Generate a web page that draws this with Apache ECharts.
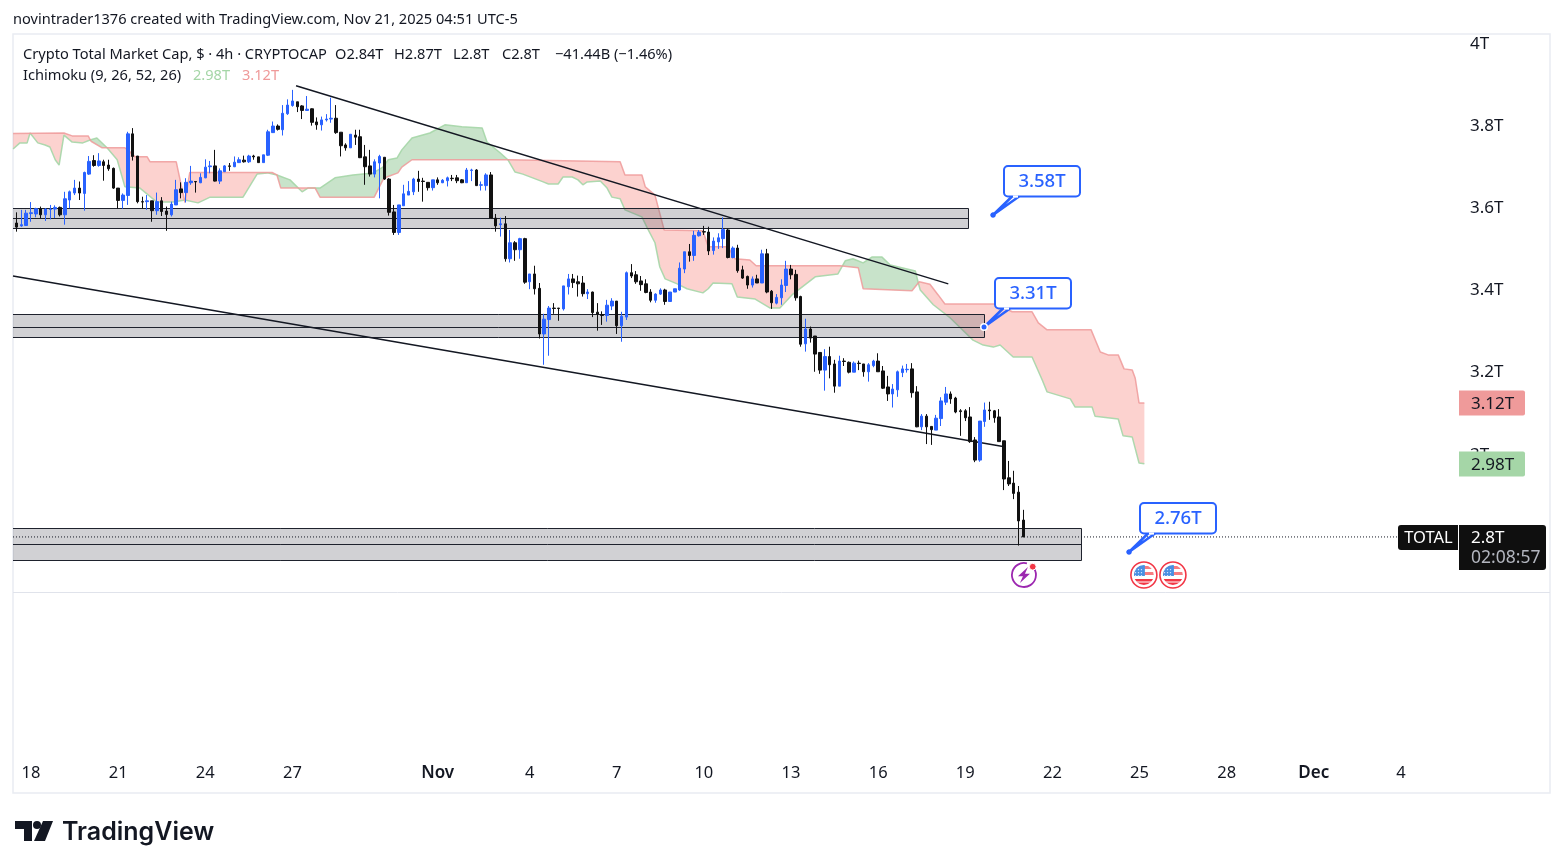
<!DOCTYPE html>
<html><head><meta charset="utf-8">
<style>html,body{margin:0;padding:0;background:#fff}#c{width:1563px;height:868px}</style>
<script src="https://cdn.jsdelivr.net/npm/echarts@6/dist/echarts.min.js"></script>
</head><body><div id="c"></div>
<script>
// open, high, low, close (trillions); bar 0 is the first visible 4h candle
const octBars=[
[3.564,3.590,3.543,3.554],[3.557,3.596,3.555,3.560],[3.558,3.596,3.557,3.588],[3.587,3.615,3.567,3.589],[3.586,3.601,3.578,3.599],
[3.598,3.604,3.576,3.584],[3.584,3.600,3.569,3.598],[3.597,3.608,3.573,3.598],[3.598,3.607,3.576,3.602],[3.602,3.604,3.580,3.584],
[3.584,3.640,3.560,3.623],[3.620,3.643,3.600,3.640],[3.637,3.669,3.632,3.649],[3.649,3.665,3.620,3.637],[3.636,3.689,3.594,3.687],
[3.683,3.727,3.681,3.714],[3.716,3.729,3.701,3.704],[3.704,3.734,3.701,3.715],[3.713,3.718,3.667,3.704],[3.705,3.718,3.691,3.696],
[3.697,3.699,3.647,3.649],[3.649,3.649,3.599,3.619],[3.619,3.636,3.599,3.632],[3.631,3.786,3.608,3.781],[3.781,3.795,3.716,3.726],
[3.727,3.727,3.612,3.616],[3.616,3.628,3.600,3.615],[3.616,3.632,3.596,3.618],[3.618,3.618,3.567,3.594],[3.594,3.638,3.584,3.616],
[3.618,3.627,3.581,3.592],[3.593,3.604,3.545,3.585],[3.584,3.616,3.580,3.610],[3.608,3.669,3.608,3.645],[3.647,3.663,3.624,3.638],
[3.638,3.673,3.614,3.663],[3.662,3.703,3.657,3.666],[3.665,3.665,3.638,3.664],[3.662,3.685,3.661,3.675],[3.674,3.719,3.673,3.700],
[3.701,3.715,3.685,3.703],[3.703,3.742,3.665,3.666],[3.666,3.697,3.659,3.691],[3.689,3.705,3.688,3.703],[3.703,3.710,3.691,3.702],
[3.701,3.726,3.700,3.712],[3.711,3.724,3.710,3.718],[3.717,3.728,3.711,3.713],[3.713,3.730,3.710,3.727],[3.727,3.730,3.718,3.725],
[3.725,3.725,3.711,3.711],[3.711,3.730,3.711,3.730],[3.729,3.791,3.727,3.786],[3.784,3.811,3.783,3.800],[3.800,3.804,3.789,3.792],
[3.791,3.851,3.777,3.831],[3.830,3.865,3.827,3.851],[3.850,3.888,3.847,3.861],[3.859,3.859,3.834,3.847],[3.849,3.851,3.817,3.838],
[3.838,3.873,3.838,3.841],[3.842,3.843,3.801,3.809],[3.810,3.821,3.791,3.803],[3.803,3.823,3.789,3.815],[3.815,3.829,3.811,3.817],
[3.817,3.869,3.808,3.819],[3.819,3.851,3.781,3.784],[3.785,3.785,3.726,3.752],[3.754,3.758,3.740,3.747],[3.747,3.780,3.747,3.780],
[3.778,3.791,3.754,3.773],[3.774,3.791,3.722,3.723],[3.725,3.754,3.657,3.701],[3.703,3.742,3.677,3.683],[3.683,3.719,3.675,3.713],
[3.710,3.730,3.624,3.726],[3.724,3.724,3.669,3.671],[3.671,3.673,3.582,3.590],[3.591,3.608,3.535,3.541],[3.541,3.608,3.535,3.608],
[3.606,3.657,3.606,3.635],[3.632,3.666,3.632,3.641],[3.640,3.674,3.632,3.671],[3.671,3.691,3.640,3.665],[3.666,3.674,3.616,3.665],
[3.663,3.663,3.643,3.650],[3.650,3.669,3.643,3.669]];
const novBars=[
[3.669,3.675,3.657,3.662],[3.662,3.671,3.661,3.668],[3.667,3.677,3.653,3.674],[3.673,3.681,3.666,3.672],[3.674,3.681,3.661,3.667],
[3.669,3.671,3.661,3.662],[3.662,3.698,3.662,3.693],[3.692,3.696,3.666,3.693],[3.693,3.695,3.654,3.655],[3.656,3.665,3.643,3.657],
[3.655,3.685,3.643,3.681],[3.681,3.688,3.576,3.576],[3.576,3.586,3.543,3.557],[3.560,3.577,3.531,3.562],[3.562,3.581,3.470,3.477],
[3.477,3.547,3.468,3.516],[3.516,3.520,3.472,3.499],[3.499,3.528,3.477,3.526],[3.526,3.528,3.416,3.420],[3.421,3.440,3.403,3.440],
[3.440,3.460,3.390,3.404],[3.405,3.418,3.283,3.294],[3.294,3.343,3.219,3.330],[3.329,3.362,3.241,3.357],[3.357,3.369,3.343,3.356],
[3.357,3.357,3.326,3.356],[3.355,3.411,3.351,3.411],[3.409,3.440,3.390,3.428],[3.428,3.440,3.406,3.419],[3.421,3.436,3.385,3.416],
[3.418,3.435,3.385,3.392],[3.392,3.403,3.379,3.396],[3.396,3.397,3.335,3.346],[3.347,3.369,3.302,3.342],[3.341,3.349,3.316,3.339],
[3.339,3.377,3.324,3.364],[3.362,3.381,3.352,3.374],[3.374,3.374,3.294,3.314],[3.314,3.348,3.275,3.337],[3.335,3.446,3.328,3.443],
[3.443,3.464,3.430,3.435],[3.438,3.447,3.416,3.421],[3.423,3.435,3.399,3.414],[3.416,3.427,3.393,3.395],[3.396,3.403,3.371,3.376],
[3.376,3.393,3.370,3.391],[3.391,3.405,3.389,3.401],[3.401,3.404,3.365,3.373],[3.373,3.396,3.373,3.396],[3.396,3.404,3.396,3.404],
[3.401,3.468,3.399,3.454],[3.452,3.494,3.442,3.494],[3.494,3.513,3.470,3.485],[3.485,3.545,3.472,3.534],[3.533,3.547,3.531,3.542],
[3.543,3.557,3.535,3.542],[3.542,3.555,3.486,3.496],[3.497,3.529,3.487,3.520],[3.518,3.539,3.501,3.528],[3.526,3.578,3.503,3.548],
[3.547,3.550,3.478,3.480],[3.480,3.507,3.478,3.503],[3.503,3.511,3.443,3.448],[3.450,3.460,3.428,3.430],[3.434,3.436,3.404,3.413],
[3.413,3.434,3.407,3.428],[3.428,3.438,3.418,3.418],[3.418,3.499,3.418,3.489],[3.489,3.501,3.393,3.396],[3.398,3.401,3.355,3.370],
[3.369,3.391,3.366,3.383],[3.382,3.427,3.365,3.413],[3.412,3.472,3.396,3.452],[3.452,3.462,3.427,3.438],[3.439,3.450,3.375,3.382],
[3.385,3.387,3.263,3.269],[3.270,3.331,3.251,3.306],[3.306,3.312,3.273,3.284],[3.289,3.289,3.202,3.245],[3.249,3.249,3.197,3.206],
[3.206,3.257,3.156,3.239],[3.239,3.263,3.186,3.219],[3.221,3.231,3.151,3.167],[3.167,3.241,3.167,3.228],[3.228,3.235,3.216,3.227],
[3.225,3.227,3.198,3.201],[3.201,3.227,3.201,3.223],[3.223,3.229,3.206,3.222],[3.221,3.221,3.190,3.202],[3.202,3.223,3.178,3.219],
[3.217,3.231,3.213,3.228],[3.228,3.247,3.202,3.202],[3.204,3.216,3.160,3.162],[3.165,3.192,3.131,3.148],[3.148,3.172,3.115,3.160],
[3.158,3.205,3.141,3.202],[3.200,3.217,3.189,3.209],[3.207,3.221,3.200,3.208],[3.209,3.223,3.139,3.151],[3.153,3.167,3.067,3.068],
[3.068,3.099,3.060,3.094],[3.094,3.099,3.026,3.068],[3.069,3.069,3.024,3.061],[3.060,3.097,3.060,3.089],[3.088,3.140,3.070,3.131],
[3.128,3.165,3.121,3.148],[3.148,3.154,3.124,3.136],[3.138,3.141,3.101,3.104],[3.107,3.111,3.046,3.105],[3.107,3.111,3.082,3.090],
[3.092,3.116,3.029,3.032],[3.036,3.043,2.982,2.987],[2.987,3.082,2.983,3.082],[3.081,3.127,3.068,3.109],[3.109,3.129,3.085,3.107],
[3.107,3.109,3.078,3.090],[3.092,3.111,3.032,3.032],[3.034,3.034,2.914,2.941],[2.944,2.985,2.924,2.929],[2.931,2.961,2.892,2.906],
[2.909,2.924,2.779,2.839],[2.841,2.866,2.800,2.800]];

// Ichimoku cloud edges: [bar, value]
const spanA=[[-0.7,3.744],[0.7,3.759],[2.2,3.759],[2.8,3.783],[4.4,3.759],[5.9,3.754],[6.9,3.749],[8.0,3.718],[8.8,3.705],[9.8,3.778],[11.5,3.761],[13.7,3.759],[15.2,3.766],[16.6,3.771],[18.7,3.747],[20.8,3.718],[22.4,3.652],[25.5,3.649],[29.0,3.615],[32.3,3.615],[34.8,3.620],[37.5,3.613],[40.0,3.627],[46.8,3.627],[49.7,3.683],[51.8,3.686],[53.8,3.681],[56.5,3.669],[59.0,3.640],[60.2,3.649],[62.7,3.649],[65.8,3.674],[69.5,3.681],[73.7,3.686],[75.7,3.700],[76.8,3.718],[78.6,3.722],[79.6,3.742],[81.7,3.771],[85.4,3.783],[88.5,3.803],[92.0,3.798],[96.2,3.795],[97.2,3.761],[99.9,3.735],[101.5,3.718],[103,3.688],[104.6,3.683],[108.8,3.664],[109.9,3.659],[111.9,3.659],[112.9,3.676],[114.8,3.676],[116,3.669],[117,3.657],[117.9,3.664],[120.6,3.666],[122,3.649],[123,3.627],[124.7,3.623],[125.7,3.596],[129.2,3.579],[130.3,3.552],[131.9,3.516],[132.9,3.457],[134,3.428],[136.5,3.416],[138.5,3.404],[141.8,3.394],[142.9,3.404],[143.9,3.418],[147.8,3.416],[148.9,3.384],[152.6,3.379],[155.7,3.357],[157.7,3.357],[160.2,3.389],[165,3.433],[169.7,3.440],[171.2,3.472],[172.8,3.477],[174.9,3.467],[176.7,3.481],[178.8,3.481],[180.5,3.462],[185.7,3.447],[186.3,3.418],[186.7,3.401],[189.4,3.365],[192.9,3.333],[197.6,3.279],[199.7,3.267],[201.8,3.262],[203.2,3.267],[205.9,3.238],[209.8,3.238],[211.9,3.182],[212.9,3.153],[217.7,3.136],[218.7,3.116],[222.2,3.116],[222.8,3.094],[227.6,3.087],[228.6,3.046],[230.5,3.043],[231.9,2.980],[233,2.978]];
const spanB=[[-0.7,3.782],[9.8,3.783],[11.5,3.776],[14.8,3.776],[15.4,3.763],[17.7,3.747],[22.4,3.747],[23.0,3.742],[24.5,3.725],[27.0,3.725],[27.6,3.713],[33.0,3.713],[34.8,3.614],[35.8,3.687],[52.8,3.687],[53.8,3.681],[54.6,3.649],[61.7,3.649],[62.7,3.627],[73.9,3.627],[75.7,3.669],[76.5,3.676],[78.8,3.686],[79.6,3.700],[81.7,3.718],[101.5,3.718],[124.7,3.713],[125.7,3.681],[129.2,3.681],[129.9,3.652],[131.9,3.632],[133.8,3.547],[141.8,3.545],[142.9,3.506],[147,3.506],[148.4,3.477],[151.5,3.474],[152.8,3.460],[170.1,3.460],[173.9,3.455],[174.9,3.404],[185,3.399],[186.5,3.421],[188.7,3.415],[190.4,3.389],[191.8,3.367],[202.2,3.367],[205.7,3.348],[209.8,3.348],[211.1,3.321],[212.9,3.304],[222,3.304],[223.9,3.250],[225.5,3.243],[227.6,3.243],[228.8,3.209],[230.5,3.206],[231.1,3.187],[231.9,3.126],[233,3.126]];

// Support zones
const zoneEnd=[196.6,199.8,219.9];
const zoneTop=[3.600,3.342,2.821];
const zoneMid=[3.575,3.312,2.782];
const zoneBottom=[3.551,3.287,2.744];

// Trend lines: [bar, value]
const trendUpper=[[57.75,3.898],[192.5,3.416]];
const trendLower=[[-0.72,3.435],[203.8,3.020]];

// Callouts
const calloutBar=[201.8,199.9,229.9];
const calloutValue=[3.584,3.311,2.763];
const calloutText=['3.58T','3.31T','2.76T'];

// Price axis
const priceTicks=[2.8,3,3.2,3.4,3.6,3.8,4];
const priceLabels=['2.8T','3T','3.2T','3.4T','3.6T','3.8T','4T'];

// Time axis
const timeTickBars=[3,21,39,57,87,106,124,142,160,178,196,214,232,250,268,286];
const timeTickLabels=['18','21','24','27','Nov','4','7','10','13','16','19','22','25','28','Dec','4'];

// Last values
const lastClose=2.8;
const spanAValue=2.977, spanBValue=3.125;
const spanAText='2.98T', spanBText='3.12T';
const eventBars=[232.9,238.9];
const newsBar=208;
const priceLineEnd=286;

const FONT='"Noto Sans"';
const INK='#131722', BLUE='#2962ff', AQUA='#a5d6a7', ROSE='#ef9a9a';
const XMIN=-0.723, XMAX=298, YMIN=2.666, YMAX=4.024;

const bars=octBars.concat(novBars).map((b,i)=>[i,b[0],b[3],b[2],b[1]]);

function interp(path,x){
  for(let i=0;i<path.length-1;i++){
    const p=path[i],q=path[i+1];
    if(x>=p[0]&&x<=q[0]){return q[0]===p[0]?p[1]:p[1]+(q[1]-p[1])*(x-p[0])/(q[0]-p[0]);}
  }
  return path[path.length-1][1];
}
function cloudRuns(){
  const xs=[...new Set(spanA.map(p=>p[0]).concat(spanB.map(p=>p[0])))].sort((a,b)=>a-b);
  const runs=[];let cur=null;
  xs.forEach((x,i)=>{
    const a=interp(spanA,x),b=interp(spanB,x),d=a-b;
    if(!cur){cur={sign:d>=0?1:-1,a:[[x,a]],b:[[x,b]]};return;}
    const px=xs[i-1],pa=interp(spanA,px),pb=interp(spanB,px),pd=pa-pb;
    const s=d>0?1:-1;
    if(d!==0&&s!==cur.sign){
      if(pd===0){
        runs.push(cur);
        cur={sign:s,a:[[px,pa]],b:[[px,pb]]};
      }else{
        const t=pd/(pd-d),mx=px+(x-px)*t,my=interp(spanA,mx);
        cur.a.push([mx,my]);cur.b.push([mx,my]);runs.push(cur);
        cur={sign:s,a:[[mx,my]],b:[[mx,my]]};
      }
    }
    cur.a.push([x,a]);cur.b.push([x,b]);
  });
  runs.push(cur);return runs;
}
const runs=cloudRuns();

function txt(x,y,t,o){return {type:'text',x,y,silent:true,style:Object.assign({text:t,fontFamily:FONT,fontSize:14.6,fill:INK,textVerticalAlign:'middle',textAlign:'left'},o||{})};}

const option={
 animation:false,
 backgroundColor:'#fff',
 grid:{left:13,top:34,width:1446,height:558,containLabel:false},
 xAxis:{type:'value',min:XMIN,max:XMAX,splitLine:{show:false},axisLine:{show:false},axisTick:{show:false},
  axisLabel:{customValues:timeTickBars,margin:172.5,fontFamily:FONT,fontSize:16.5,color:INK,hideOverlap:false,showMinLabel:true,showMaxLabel:true,
   rich:{m:{fontFamily:FONT,fontSize:17,fontWeight:600,color:INK}},
   formatter:v=>{const l=timeTickLabels[timeTickBars.indexOf(v)];return (l==='Nov'||l==='Dec')?'{m|'+l+'}':l;}}},
 yAxis:{type:'value',position:'right',min:YMIN,max:YMAX,splitLine:{show:false},axisLine:{show:false},axisTick:{show:false},
  axisLabel:{customValues:priceTicks,margin:11,align:'left',fontFamily:FONT,fontSize:17,color:INK,padding:[2,0,0,0],
   formatter:v=>priceLabels[priceTicks.indexOf(v)]}},
 series:[
  {type:'custom',name:'cloud',z:1,clip:true,data:[0],silent:true,coordinateSystem:'cartesian2d',
   renderItem:(p,api)=>({type:'group',children:runs.map(r=>({type:'polygon',
     shape:{points:r.a.concat(r.b.slice().reverse()).map(q=>api.coord(q))},
     style:{fill:r.sign>0?'rgba(67,160,71,0.29)':'rgba(244,67,54,0.24)'}}))})},
  {type:'line',name:'Span A',z:2,data:spanA,showSymbol:false,symbol:'none',silent:true,lineStyle:{color:AQUA,width:1.5,opacity:.9}},
  {type:'line',name:'Span B',z:2,data:spanB,showSymbol:false,symbol:'none',silent:true,lineStyle:{color:ROSE,width:1.5,opacity:.85}},
  {type:'custom',name:'zones',z:3,clip:true,silent:true,data:zoneEnd.map((e,i)=>[e,zoneTop[i],zoneMid[i],zoneBottom[i]]),
   encode:{x:0,y:[1,2,3]},
   renderItem:(p,api)=>{
     const r=api.coord([api.value(0),api.value(1)]);
     const l=api.coord([XMIN,api.value(1)])[0];
     const yt=Math.round(r[1])+.5,ym=Math.round(api.coord([0,api.value(2)])[1])+.5,yb=Math.round(api.coord([0,api.value(3)])[1])+.5,xr=Math.round(r[0])+.5;
     const ln={stroke:'#1e222d',lineWidth:1,fill:null};
     return {type:'group',children:[
      {type:'rect',shape:{x:l,y:yt,width:xr-l,height:yb-yt},style:{fill:'rgba(112,112,120,0.32)'}},
      {type:'line',shape:{x1:l,y1:yt,x2:xr,y2:yt},style:ln},
      {type:'line',shape:{x1:l,y1:ym,x2:xr,y2:ym},style:ln},
      {type:'line',shape:{x1:l,y1:yb,x2:xr,y2:yb},style:ln},
      {type:'line',shape:{x1:xr,y1:yt,x2:xr,y2:yb},style:ln}]};
   }},
  {type:'line',name:'Upper trend',z:4,data:trendUpper,symbol:'none',silent:true,lineStyle:{color:INK,width:1.4}},
  {type:'line',name:'Lower trend',z:4,data:trendLower,symbol:'none',silent:true,lineStyle:{color:INK,width:1.4}},
  {type:'line',name:'Last price',z:4,data:[[XMIN,lastClose],[priceLineEnd,lastClose]],symbol:'none',silent:true,lineStyle:{color:INK,width:1,type:[1,2]}},
  {type:'candlestick',name:'TOTAL',z:5,data:bars,barWidth:3,silent:true,encode:{x:0,y:[1,2,3,4]},
   itemStyle:{color:BLUE,color0:'#111',borderColor:BLUE,borderColor0:'#111',borderWidth:1}},
  {type:'custom',name:'callouts',z:6,clip:false,silent:true,data:calloutBar.map((b,i)=>[b,calloutValue[i]]),encode:{x:0,y:1},
   renderItem:(p,api)=>{
     const c=api.coord([api.value(0),api.value(1)]);
     const x=Math.round(c[0]),y=Math.round(c[1]);
     const L=x+11,R=x+87,T=y-49,B=y-18.5,ra=4;
     const i=p.dataIndex;
     return {type:'group',children:[
      {type:'polyline',shape:{points:[[L+8,B],[x,y],[L+15,B]]},style:{stroke:BLUE,lineWidth:2.5,fill:null,lineJoin:'miter'}},
      {type:'rect',shape:{x:L,y:T,width:R-L,height:B-T,r:ra},style:{stroke:BLUE,lineWidth:2,fill:'#fff'}},
      {type:'line',shape:{x1:L+9,y1:B,x2:L+14,y2:B},style:{stroke:'#fff',lineWidth:2.2}},
      {type:'text',x:(L+R)/2,y:(T+B)/2+.5,style:{text:calloutText[i],fontFamily:FONT,fontSize:18.5,fontWeight:500,fill:BLUE,textAlign:'center',textVerticalAlign:'middle'}},
      {type:'circle',shape:{cx:x,cy:y,r:i===1?4:2.5},style:{fill:i===1?'#fff':BLUE}},
      {type:'circle',shape:{cx:x,cy:y,r:2.5},style:{fill:BLUE}}
     ]};
   }},
  {type:'custom',name:'events',z:6,clip:false,silent:true,data:eventBars.map(b=>[b,YMIN]),encode:{x:0,y:1},
   renderItem:(p,api)=>{
     const cx=api.coord([api.value(0),YMIN])[0],cy=575;
     const R=(x,y,w,h,f)=>({type:'rect',shape:{x:cx+x,y:cy+y,width:w,height:h},style:{fill:f}});
     const cells=[];
     [-9,-6,-3].forEach(a=>[-6,-3,0].forEach(b=>cells.push(R(a,b,1.2,1.2,'#cfe0ff'))));
     return {type:'group',children:[
      {type:'circle',shape:{cx,cy,r:13},style:{fill:'#fff',stroke:'#f23645',lineWidth:1.6}},
      {type:'group',clipPath:{type:'circle',shape:{cx,cy,r:10}},children:[
        R(-10,-10,20,20,'#ffffff'),R(-10,-9,20,3,'#f77c80'),R(-10,-3,20,3,'#f77c80'),R(-10,4,20,2.5,'#f23645'),R(-10,7.5,20,3,'#f23645'),
        R(-10,-10,11,11,'#4a90e2')].concat(cells)}
     ]};
   }},
  {type:'custom',name:'news',z:6,clip:false,silent:true,data:[[newsBar,YMIN]],encode:{x:0,y:1},
   renderItem:(p,api)=>{
     const cx=api.coord([api.value(0),YMIN])[0]+.6,cy=575;
     return {type:'group',children:[
      {type:'arc',shape:{cx,cy,r:12,startAngle:-Math.PI*0.18,endAngle:-Math.PI*0.42,clockwise:true},style:{stroke:'#9c27b0',lineWidth:1.8,fill:null}},
      {type:'polygon',shape:{points:[[cx+4,cy-8],[cx-6,cy+1.2],[cx-1,cy+1.2],[cx-4,cy+8],[cx+6,cy-1.2],[cx+1,cy-1.2]]},style:{fill:'#9c27b0'}},
      {type:'circle',shape:{cx:cx+8.8,cy:cy-8.3,r:3.4},style:{fill:'#f23645',stroke:'#fff',lineWidth:1}}
     ]};
   }},
  {type:'custom',name:'tags',z:8,clip:false,silent:true,data:[[XMAX,spanBValue,0],[XMAX,spanAValue,1],[XMAX,lastClose,2]],encode:{x:0,y:1},
   renderItem:(p,api)=>{
     const c=api.coord([XMAX,api.value(1)]);const k=api.value(2);
     const x=c[0],y=Math.round(c[1]);
     if(k<2){return {type:'group',children:[
       {type:'rect',shape:{x,y:y-12.5,width:66,height:25,r:[0,2,2,0]},style:{fill:k===0?ROSE:AQUA}},
       {type:'text',x:x+12,y:y+1,style:{text:k===0?spanBText:spanAText,fontFamily:FONT,fontSize:17,fill:INK,textVerticalAlign:'middle'}}]};}
     return {type:'group',children:[
       {type:'rect',shape:{x:x-61,y:y-12,width:60,height:25,r:[3,0,0,3]},style:{fill:'#0f0f0f'}},
       {type:'text',x:x-30.5,y:y+1,style:{text:'TOTAL',fontFamily:FONT,fontSize:16.5,fill:'#fff',textAlign:'center',textVerticalAlign:'middle'}},
       {type:'rect',shape:{x,y:y-12,width:87,height:45,r:[0,3,3,0]},style:{fill:'#0f0f0f'}},
       {type:'text',x:x+12,y:y+1,style:{text:'2.8T',fontFamily:FONT,fontSize:17,fill:'#fff',textVerticalAlign:'middle'}},
       {type:'text',x:x+12,y:y+21,style:{text:'02:08:57',fontFamily:FONT,fontSize:17.5,fill:'#b2b5be',textVerticalAlign:'middle'}}]};
   }}
 ],
 graphic:{elements:[
  {type:'rect',shape:{x:13,y:34,width:1537,height:759},style:{fill:null,stroke:'#e9ecf2',lineWidth:1.5},silent:true,z:0},
  {type:'line',shape:{x1:13,y1:592.5,x2:1550,y2:592.5},style:{stroke:'#e0e3eb',lineWidth:1},silent:true,z:0},
  txt(13,20,'novintrader1376 created with TradingView.com, Nov 21, 2025 04:51 UTC-5'),
  txt(23,55,'Crypto Total Market Cap, $ · 4h · CRYPTOCAP'),
  txt(335,55,'O2.84T'),txt(394,55,'H2.87T'),txt(453,55,'L2.8T'),txt(502,55,'C2.8T'),txt(555,55,'−41.44B (−1.46%)'),
  txt(23,76,'Ichimoku (9, 26, 52, 26)'),
  txt(193,76,spanAText,{fill:AQUA}),txt(242,76,spanBText,{fill:ROSE}),
  {type:'group',silent:true,children:[
    {type:'polygon',shape:{points:[[15,821],[32,821],[32,841],[24,841],[24,829],[15,829]]},style:{fill:INK}},
    {type:'circle',shape:{cx:37,cy:825,r:4},style:{fill:INK}},
    {type:'polygon',shape:{points:[[43,821],[53,821],[45,841],[34,841]]},style:{fill:INK}}]},
  txt(62,832,'TradingView',{fontFamily:'Inter',fontSize:25,fontWeight:600})
 ]}
};
echarts.init(document.getElementById('c'),null,{renderer:'canvas'}).setOption(option);
</script></body></html>
